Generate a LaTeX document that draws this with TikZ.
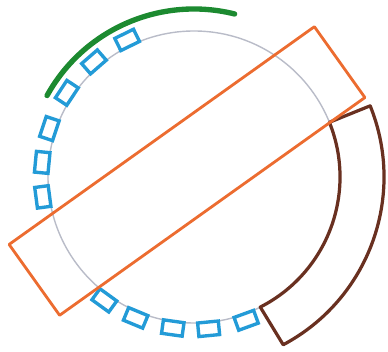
\documentclass[tikz,border=0pt]{standalone}
\usepackage{tikz}
\usetikzlibrary{positioning}
\definecolor{tileblue}{RGB}{35,155,215}
\definecolor{barorange}{RGB}{236,108,48}
\definecolor{rimbrown}{RGB}{105,48,32}
\definecolor{arcgreen}{RGB}{28,138,48}
\definecolor{ringgray}{RGB}{185,188,200}

\begin{document}
\begin{tikzpicture}[x=0.025cm, y=0.025cm,
    tile/.style={draw=tileblue, line width=2.4pt, minimum width=0.34cm, minimum height=0.52cm, inner sep=0pt},
    bar/.style={draw=barorange, line width=2pt, line join=round},
    rim/.style={draw=rimbrown, line width=2.3pt, line join=round},
    guard/.style={draw=arcgreen, line width=3.8pt, line cap=round}]
  \useasboundingbox (0,0) rectangle (388,-352);
  \coordinate (c) at (194,-177);
  \draw[ringgray, line width=1pt] (c) circle[radius=146];
  \draw[guard] ([shift={(151:168)}]c) arc[start angle=151, end angle=76, radius=168];
  \foreach \a/\n in {116/1, 131/2, 146.5/3, 161.5/4, 174.5/5, 187.5/6, 234/7, 247.5/8, 262/9, 275.5/10, 290/11}{
     \node[tile, rotate=\a] (t\n) at ([shift={(\a:152.5)}]c) {};
  }
  \draw[rim] ([shift={(-63:146)}]c) arc[start angle=-63, end angle=22, radius=146]
     -- ([shift={(22:190)}]c) arc[start angle=22, end angle=-62, radius=190] -- cycle;
  \draw[bar, rotate around={35.5:(187,-171)}] (-0.5,-214.5) rectangle ++(375,87);
\end{tikzpicture}
\end{document}
